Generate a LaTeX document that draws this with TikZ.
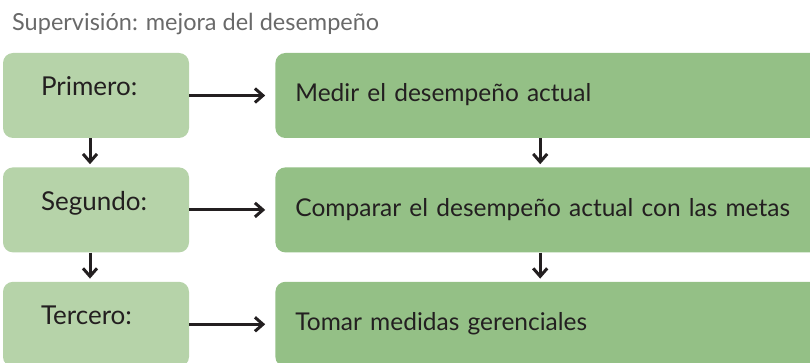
\documentclass[tikz,border=0pt]{standalone}
\usepackage{fontspec}
\setmainfont{Lato}
\usetikzlibrary{positioning,arrows.meta}

\definecolor{pasoverde}{RGB}{182,211,169}
\definecolor{accionverde}{RGB}{148,192,134}
\definecolor{tinta}{RGB}{35,31,32}
\definecolor{titulogris}{RGB}{105,105,105}

\tikzset{
  paso/.style={fill=pasoverde, rounded corners=10pt, text=tinta,
    text width=110pt, inner xsep=38pt, inner ysep=0pt, align=left,
    minimum height=85pt, text height=19pt, text depth=18pt,
    font=\fontsize{26}{30}\selectfont},
  accion/.style={fill=accionverde, rounded corners=10pt, text=tinta,
    text width=540pt, inner xsep=20pt, inner ysep=0pt, align=left,
    minimum height=85pt, text height=18pt, text depth=5pt,
    font=\fontsize{24.5}{29}\selectfont},
  flecha/.style={-{Straight Barb[length=8pt,width=14pt]}, line width=3pt, draw=tinta}
}

\begin{document}
\begin{tikzpicture}[x=1pt, y=1pt, node distance=29pt]
    \useasboundingbox (0,0) rectangle (810,-363);
    \clip (0,0) rectangle (810,-363);

    \node [anchor=base west, inner sep=0pt, text=titulogris,
           font=\fontsize{23.5}{28}\selectfont] (titulo) at (12,-31)
          {Supervisión: mejora del desempeño};

    % pasos
    \node [paso] (p1) at (96,-95.5) {Primero:};
    \node [paso, below=of p1] (p2) {Segundo:};
    \node [paso, below=of p2] (p3) {Tercero:};

    % acciones
    \node [accion, right=86pt of p1] (m1) {Medir el desempeño actual};
    \node [accion, right=86pt of p2] (m2) {Comparar el desempeño actual con las metas};
    \node [accion, right=86pt of p3] (m3) {Tomar medidas gerenciales};

    \foreach \i in {1,2,3}
        \draw [flecha, shorten >=10pt] (p\i) -- (m\i);

    \draw [flecha, shorten >=3pt] ([xshift=-6pt]p1.south) -- ([xshift=-6pt]p2.north);
    \draw [flecha, shorten >=3pt] ([xshift=-6pt]p2.south) -- ([xshift=-6pt]p3.north);
    \draw [flecha, shorten >=3pt] ([xshift=265pt]m1.south west) -- ([xshift=265pt]m2.north west);
    \draw [flecha, shorten >=3pt] ([xshift=265pt]m2.south west) -- ([xshift=265pt]m3.north west);
\end{tikzpicture}
\end{document}
